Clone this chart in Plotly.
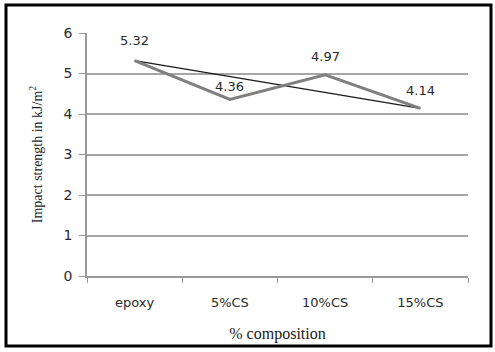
import plotly.graph_objects as go

# Daten
categories = ["epoxy", "5%CS", "10%CS", "15%CS"]
impact = [5.32, 4.36, 4.97, 4.14]
trend_x = ["epoxy", "15%CS"]
trend_y = [5.32, 4.14]

fig = go.Figure()

# Verbindungslinie zwischen erstem und letztem Wert
fig.add_trace(go.Scatter(
    x=trend_x, y=trend_y, mode="lines",
    line=dict(color="#1a1a1a", width=1.2),
    showlegend=False, hoverinfo="skip"
))

# Hauptlinie
fig.add_trace(go.Scatter(
    x=categories, y=impact, mode="lines",
    line=dict(color="#7f7f7f", width=3),
    showlegend=False
))

# Wertbeschriftungen über den Punkten (Abstand in Pixel)
label_offsets = [20, 13, 18, 18]
for c, v, dy in zip(categories, impact, label_offsets):
    fig.add_annotation(
        x=c, y=v, text=f"{v:.2f}", showarrow=False,
        yshift=dy,
        font=dict(family="DejaVu Sans, sans-serif", size=13, color="#2a2a2a")
    )

fig.update_layout(
    width=495, height=352,
    margin=dict(l=87, r=27, t=33, b=76),
    paper_bgcolor="white", plot_bgcolor="white",
    font=dict(family="DejaVu Sans, sans-serif", color="#2a2a2a"),
)

fig.update_xaxes(
    type="category", categoryorder="array", categoryarray=categories,
    tickson="boundaries", ticks="outside", ticklen=5, tickcolor="#999999",
    showline=True, linecolor="#999999", linewidth=1.5,
    showgrid=False, range=[-0.5, 3.5],
    ticklabelstandoff=14,
    tickfont=dict(family="DejaVu Sans, sans-serif", size=13, color="#2a2a2a"),
    title=dict(text="% composition", standoff=18,
               font=dict(family="Liberation Serif, serif", size=16, color="#1a1a1a")),
)

fig.update_yaxes(
    range=[0, 6], dtick=1, ticks="outside", ticklen=6, tickcolor="#999999",
    showline=True, linecolor="#999999", linewidth=1.5,
    showgrid=True, gridcolor="#a6a6a6", gridwidth=1.5,
    zeroline=False, ticklabelstandoff=4,
    tickfont=dict(family="DejaVu Sans, sans-serif", size=14, color="#2a2a2a"),
    title=dict(text="Impact strength in kJ/m<sup>2</sup>", standoff=18,
               font=dict(family="Liberation Serif, serif", size=14, color="#1a1a1a")),
)

# Schwarzer Rahmen um das ganze Bild
fig.add_shape(type="rect", xref="paper", yref="paper",
              x0=-81/381, x1=1 + 23/381, y0=-70/243, y1=1 + 28/243,
              line=dict(color="black", width=3))

fig.write_html("out.html", config={"displayModeBar": False},
               post_script="document.body.style.margin='0';")
